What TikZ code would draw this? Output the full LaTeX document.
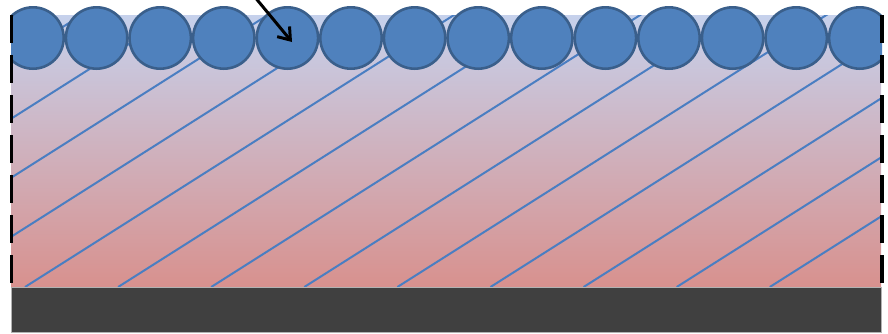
\documentclass[tikz,border=0pt]{standalone}
\usetikzlibrary{arrows.meta}
\definecolor{cfill}{HTML}{4F81BD}
\definecolor{cedge}{HTML}{3A5F8B}
\definecolor{topc}{HTML}{C6D1EC}
\definecolor{botc}{HTML}{D8918E}
\definecolor{basec}{HTML}{404040}
\definecolor{hatchc}{HTML}{4A7EC2}
\tikzset{
  ball/.style={circle, fill=cfill, draw=cedge, line width=2.6pt, minimum size=61.4pt, inner sep=0pt},
  hatchline/.style={draw=hatchc, line width=2pt},
  sidedash/.style={draw=black, line width=3.2pt, dash pattern=on 28pt off 12pt},
  baseplate/.style={fill=basec, draw=gray!60, line width=0.8pt},
  pointer/.style={draw=black, line width=3pt, -{Straight Barb[length=11pt,width=16pt]}}
}
\begin{document}
\begin{tikzpicture}[x=1pt,y=-1pt]
\useasboundingbox (0,0) rectangle (888,333);
\shade[top color=topc, bottom color=botc] (11,15) rectangle (881,287);
\begin{scope}
  \clip (11,15) rectangle (881,287);
  \foreach \k in {-6,...,8}
    \draw[hatchline] ({25+93.1*\k},287) -- ++(600,-380.4);
\end{scope}
\path[baseplate] (11,287) rectangle (881,332);
\begin{scope}
  \clip (11,0) rectangle (882,80);
  \foreach \i in {0,...,13}
    \node[ball] (c\i) at ({33+63.6*\i},38) {};
\end{scope}
\draw[sidedash] (11.5,15) -- (11.5,287);
\draw[sidedash] (882,15) -- (882,287);
\coordinate (astart) at (254,-4);
\coordinate (atip) at (292,42);
\draw[pointer] (astart) -- (atip);
\end{tikzpicture}
\end{document}
